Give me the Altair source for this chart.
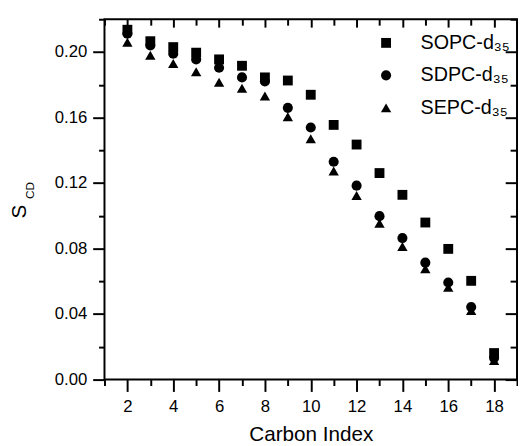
import altair as alt
import pandas as pd

FONT = "Liberation Sans"

carbon = [2, 3, 4, 5, 6, 7, 8, 9, 10, 11, 12, 13, 14, 15, 16, 17, 18]
sopc = [0.2136, 0.2066, 0.2030, 0.1996, 0.1955, 0.1916, 0.1845, 0.1826, 0.1739,
        0.1555, 0.1435, 0.1261, 0.1128, 0.0959, 0.0798, 0.0603, 0.0162]
sdpc = [0.2112, 0.2040, 0.1990, 0.1955, 0.1904, 0.1845, 0.1820, 0.1659, 0.1539,
        0.1330, 0.1184, 0.0998, 0.0864, 0.0714, 0.0593, 0.0443, 0.0132]
sepc = [0.2060, 0.1980, 0.1930, 0.1880, 0.1815, 0.1779, 0.1731, 0.1605, 0.1471,
        0.1274, 0.1124, 0.0954, 0.0813, 0.0677, 0.0563, 0.0422, 0.0116]
series_names = ["SOPC-d₃₅", "SDPC-d₃₅", "SEPC-d₃₅"]
x_major = [2, 4, 6, 8, 10, 12, 14, 16, 18]
x_minor = [1, 3, 5, 7, 9, 11, 13, 15, 17, 19]
y_major = [0.0, 0.04, 0.08, 0.12, 0.16, 0.20]
y_minor = [0.02, 0.06, 0.10, 0.14, 0.18, 0.22]

rows = []
for name, vals in zip(series_names, [sopc, sdpc, sepc]):
    for c, v in zip(carbon, vals):
        rows.append({"carbon": c, "scd": v, "series": name})
df = pd.DataFrame(rows)

xscale = alt.Scale(domain=[1, 19], nice=False, zero=False)
yscale = alt.Scale(domain=[0, 0.22], nice=False, zero=False)

legend = alt.Legend(
    title=None, orient="none", legendX=276, legendY=14,
    labelFont=FONT, labelFontSize=20, labelColor="black",
    labelOffset=25, rowPadding=13, padding=0,
    symbolFillColor="black", symbolStrokeColor="black", symbolOpacity=1,
)

points = alt.Chart(df).mark_point(filled=True, opacity=1, color="black").encode(
    x=alt.X("carbon:Q", scale=xscale, axis=alt.Axis(
        orient="bottom", values=x_major, title="Carbon Index", format="d",
        tickSize=12, labelPadding=7, titleY=62, titleBaseline="alphabetic",
    )),
    y=alt.Y("scd:Q", scale=yscale, axis=alt.Axis(
        orient="left", values=y_major, title="S", format=".2f",
        tickSize=12, labelPadding=6, titleAngle=270, titleX=-86, titleY=195,
        titleAlign="center", titleBaseline="middle", titleFontSize=21,
    )),
    shape=alt.Shape("series:N", scale=alt.Scale(
        domain=series_names, range=["square", "circle", "triangle-up"]), legend=legend),
    size=alt.Size("series:N", scale=alt.Scale(
        domain=series_names, range=[100, 110, 190]), legend=legend),
)


def tick_layer(xo, xvals, xsize, xoff, yo, yvals, ysize, yoff):
    return alt.Chart(df).mark_point(opacity=0).encode(
        x=alt.X("carbon:Q", scale=xscale, axis=alt.Axis(
            orient=xo, values=xvals, labels=False, title=None,
            tickSize=xsize, offset=xoff)),
        y=alt.Y("scd:Q", scale=yscale, axis=alt.Axis(
            orient=yo, values=yvals, labels=False, title=None,
            tickSize=ysize, offset=yoff)),
    )


minor_out = tick_layer("bottom", x_minor, 6, 0, "left", y_minor, 6, 0)
major_in = tick_layer("top", x_major, 8, -8, "right", y_major, 12, -12)
minor_in = tick_layer("top", x_minor, 6, -6, "right", y_minor, 7, -7)

sub = alt.Chart(pd.DataFrame({"t": ["CD"]})).mark_text(
    font=FONT, fontSize=12, angle=270, align="center", baseline="middle", color="black"
).encode(x=alt.value(-76), y=alt.value(174), text="t:N")

chart = alt.layer(points, minor_out, major_in, minor_in, sub).resolve_axis(
    x="independent", y="independent"
).properties(
    width=419, height=366,
    autosize=alt.AutoSizeParams(type="none"),
    padding={"left": 98, "top": 8, "right": 1, "bottom": 63},
).configure_axis(
    labelFont=FONT, labelFontSize=17, labelColor="black",
    titleFont=FONT, titleFontSize=21, titleColor="black", titleFontWeight="normal",
    domain=False, tickColor="black", tickWidth=2, grid=False,
).configure_view(stroke="black", strokeWidth=2)

chart.save("out.html", embed_options={"renderer": "svg", "actions": False})
